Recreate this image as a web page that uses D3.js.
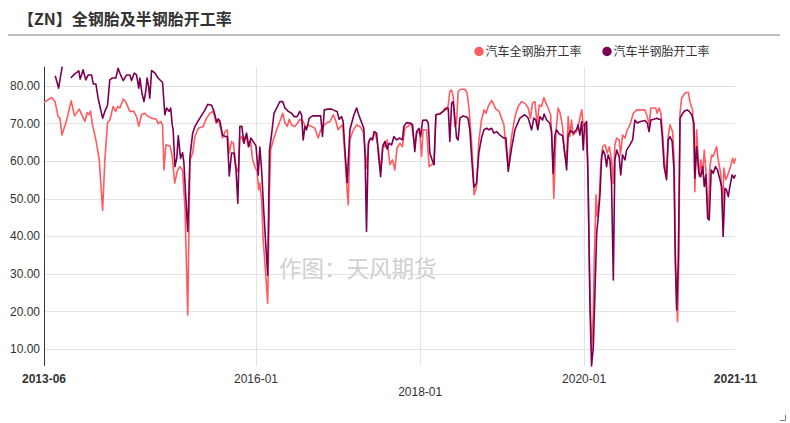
<!DOCTYPE html>
<html><head><meta charset="utf-8">
<script src="https://cdn.jsdelivr.net/npm/d3@7"></script>
<style>
body{margin:0;background:#fff;}
svg{display:block;font-family:"Liberation Sans",Arial,"Noto Sans CJK SC",sans-serif;}
</style>
</head><body>
<svg id="c" width="790" height="423"></svg>
<script>
const title = "【ZN】全钢胎及半钢胎开工率";
const seriesNames = ["汽车全钢胎开工率", "汽车半钢胎开工率"];
const seriesColors = ["#FF5B61", "#7B0051"];
const watermark = "作图：天风期货";
const yTicks = [10, 20, 30, 40, 50, 60, 70, 80];
const xTickDates = ["2016-01-01", "2018-01-01", "2020-01-01"];

const fullDates = ["2013-06-01","2013-07-05","2013-07-20","2013-08-03","2013-08-11","2013-08-20","2013-09-10","2013-09-30","2013-10-15","2013-11-05","2013-11-20","2013-11-30","2013-12-10","2013-12-18","2013-12-25",
"2014-01-03","2014-01-18","2014-02-02","2014-02-17","2014-02-27","2014-03-11","2014-03-21","2014-04-05","2014-04-16","2014-04-25","2014-05-05","2014-05-20","2014-06-01","2014-06-18","2014-07-06","2014-07-18","2014-07-28","2014-08-09","2014-08-24","2014-09-03","2014-09-23","2014-10-15","2014-10-22","2014-11-02","2014-11-11","2014-11-17","2014-11-26","2014-12-14","2014-12-24",
"2015-01-04","2015-01-15","2015-01-27","2015-02-08","2015-02-19","2015-03-03","2015-03-13","2015-03-25","2015-04-04","2015-04-19","2015-05-11","2015-05-26","2015-06-10","2015-06-22","2015-06-29","2015-07-07","2015-07-17","2015-07-28","2015-08-05","2015-08-16","2015-08-26","2015-09-04","2015-09-14","2015-09-22","2015-10-04","2015-10-14","2015-10-21","2015-10-29","2015-11-05","2015-11-17","2015-11-27","2015-12-08","2015-12-17","2015-12-27",
"2016-01-06","2016-01-13","2016-01-18","2016-01-26","2016-02-02","2016-02-13","2016-02-22","2016-03-01","2016-03-06","2016-03-18","2016-04-02","2016-04-16","2016-04-29","2016-05-09","2016-05-19","2016-05-28","2016-06-07","2016-06-22","2016-07-04","2016-07-14","2016-07-29","2016-08-10","2016-08-20","2016-09-04","2016-09-19","2016-10-04","2016-10-15","2016-10-26","2016-11-10","2016-11-25","2016-12-10","2016-12-22",
"2017-01-01","2017-01-12","2017-01-21","2017-01-31","2017-02-10","2017-02-15","2017-02-22","2017-03-06","2017-03-24","2017-04-08","2017-04-22","2017-04-30","2017-05-07","2017-05-19","2017-06-03","2017-06-13","2017-06-28","2017-07-09","2017-07-20","2017-07-28","2017-08-07","2017-08-19","2017-08-31","2017-09-10","2017-09-20","2017-10-02","2017-10-14","2017-10-25","2017-11-08","2017-11-23","2017-12-01","2017-12-08","2017-12-18","2017-12-30",
"2018-01-07","2018-01-14","2018-01-29","2018-02-10","2018-02-21","2018-03-03","2018-03-12","2018-03-30","2018-04-13","2018-04-21","2018-04-29","2018-05-06","2018-05-13","2018-05-21","2018-05-28","2018-06-04","2018-06-12","2018-06-19","2018-06-30","2018-07-19","2018-07-29","2018-08-07","2018-08-18","2018-08-25","2018-08-29","2018-09-09","2018-09-19","2018-10-01","2018-10-12","2018-10-21","2018-10-31","2018-11-15","2018-11-22","2018-12-04","2018-12-19","2018-12-29",
"2019-01-09","2019-01-18","2019-01-28","2019-02-12","2019-02-27","2019-03-13","2019-03-28","2019-04-12","2019-04-27","2019-05-07","2019-05-16","2019-05-27","2019-06-06","2019-06-15","2019-06-25","2019-07-06","2019-07-15","2019-07-25","2019-08-05","2019-08-13","2019-08-19","2019-08-29","2019-09-07","2019-09-15","2019-09-27","2019-10-07","2019-10-15","2019-10-22","2019-10-29","2019-11-06","2019-11-13","2019-11-28","2019-12-10","2019-12-16","2019-12-22","2019-12-28",
"2020-01-03","2020-01-09","2020-01-17","2020-01-24","2020-02-03","2020-02-11","2020-02-15","2020-02-23","2020-02-28","2020-03-08","2020-03-14","2020-03-23","2020-04-03","2020-04-13","2020-04-22","2020-05-02","2020-05-10","2020-05-17","2020-05-25","2020-06-05","2020-06-11","2020-06-20","2020-07-01","2020-07-11","2020-07-23","2020-08-07","2020-08-22","2020-09-13","2020-09-28","2020-10-08","2020-10-17","2020-10-24","2020-11-03","2020-11-15","2020-11-21","2020-11-30","2020-12-08","2020-12-15","2020-12-23",
"2021-01-02","2021-01-09","2021-01-17","2021-01-29","2021-02-05","2021-02-11","2021-02-16","2021-02-20","2021-02-26","2021-03-03","2021-03-10","2021-03-25","2021-04-09","2021-04-16","2021-04-28","2021-05-04","2021-05-08","2021-05-16","2021-05-28","2021-06-04","2021-06-12","2021-06-19","2021-06-26","2021-07-07","2021-07-14","2021-07-22","2021-07-29","2021-08-05","2021-08-13","2021-08-20","2021-08-31","2021-09-09","2021-09-14","2021-09-23","2021-10-04","2021-10-14","2021-10-23","2021-10-30","2021-11-05"];
const fullValues = [75.6,76.9,75.8,71.8,71.4,66.9,70.9,76.0,72.0,73.8,71.8,70.5,72.9,72.3,73.3,
69.6,65.6,60.3,46.8,60.3,70.2,70.9,74.5,73.2,74.5,74.1,76.5,75.6,73.2,73.2,71.8,69.2,72.3,72.7,72.0,71.4,71.1,69.9,70.5,69.6,57.6,64.3,64.0,61.2,
54.1,57.2,58.5,57.6,47.0,19.0,60.3,62.1,66.5,68.7,69.2,71.4,72.7,73.2,72.3,70.1,70.9,68.7,66.1,67.8,68.3,62.1,65.2,64.7,58.5,57.0,66.1,66.5,65.2,66.9,63.8,65.2,60.3,58.5,
57.2,52.3,54.1,49.6,39.0,30.1,22.1,51.4,62.9,65.6,68.3,70.5,72.7,70.1,69.2,71.1,69.6,69.2,70.1,71.1,70.5,68.7,69.6,69.2,68.7,66.1,68.3,69.2,70.1,70.5,72.3,70.5,
68.3,69.2,69.6,61.2,51.8,48.3,65.6,67.8,69.6,69.2,67.8,63.8,58.0,65.6,66.1,67.8,63.8,57.6,64.3,63.7,65.6,59.0,60.3,57.6,63.4,64.7,63.8,68.7,69.2,70.1,66.5,64.3,67.8,67.4,
61.2,68.3,68.3,58.5,59.0,59.4,72.3,72.7,73.2,74.1,73.6,74.9,78.5,78.9,77.2,69.2,70.1,78.5,79.1,79.1,78.1,73.6,64.7,57.6,51.0,53.2,65.2,70.9,73.6,72.7,74.5,76.1,75.4,73.8,73.2,71.4,
69.6,63.4,58.5,66.5,71.8,74.5,75.8,75.4,74.1,71.4,75.4,75.8,69.6,74.9,74.5,76.9,75.4,74.1,72.3,62.0,50.1,68.0,74.1,73.0,69.2,61.2,60.3,71.8,66.5,70.9,66.9,67.8,70.5,72.3,73.6,69.2,
70.1,67.4,60.3,33.6,9.7,19.4,33.6,51.0,45.2,49.6,57.6,63.8,64.3,62.1,63.8,60.3,54.0,64.3,66.1,65.6,61.6,66.9,66.1,68.3,69.6,72.7,73.6,73.6,73.6,71.8,69.6,74.1,74.1,74.1,72.7,74.1,72.7,67.8,60.3,
55.8,66.5,69.6,67.8,60.3,33.6,23.0,17.2,34.5,72.7,76.7,78.1,78.3,75.8,73.6,64.7,51.8,68.3,55.8,60.3,56.7,62.9,57.6,44.7,58.5,61.6,61.2,62.5,63.8,60.3,56.7,47.0,58.1,55.0,56.7,58.5,60.7,59.4,60.7];

const semiDates = ["2013-07-21","2013-08-05","2013-08-21","2013-09-04","2013-09-28","2013-10-16","2013-11-03","2013-11-09","2013-11-15","2013-11-22","2013-12-04","2013-12-15","2013-12-30",
"2014-01-06","2014-01-18","2014-01-28","2014-02-17","2014-02-27","2014-03-11","2014-03-21","2014-04-02","2014-04-17","2014-04-27","2014-05-08","2014-05-20","2014-06-04","2014-06-18","2014-06-26","2014-07-08","2014-07-18","2014-07-28","2014-08-02","2014-08-11","2014-08-20","2014-08-29","2014-09-03","2014-09-10","2014-09-15","2014-09-23","2014-10-08","2014-10-22","2014-11-11","2014-11-21","2014-11-29","2014-12-10","2014-12-17","2014-12-24","2014-12-28",
"2015-01-05","2015-01-13","2015-01-20","2015-01-30","2015-02-08","2015-02-14","2015-02-23","2015-03-03","2015-03-13","2015-03-25","2015-04-04","2015-04-26","2015-05-19","2015-05-31","2015-06-10","2015-06-17","2015-06-28","2015-07-10","2015-07-17","2015-07-24","2015-08-05","2015-08-16","2015-08-26","2015-09-04","2015-09-14","2015-09-25","2015-10-04","2015-10-12","2015-10-21","2015-10-30","2015-11-08","2015-11-20","2015-11-30","2015-12-09","2015-12-19",
"2016-01-01","2016-01-11","2016-01-18","2016-01-26","2016-02-05","2016-02-14","2016-02-22","2016-03-01","2016-03-11","2016-03-21","2016-04-02","2016-04-16","2016-04-29","2016-05-09","2016-05-24","2016-06-07","2016-06-19","2016-07-02","2016-07-14","2016-07-22","2016-07-29","2016-08-06","2016-08-13","2016-08-25","2016-09-09","2016-09-27","2016-10-15","2016-10-23","2016-10-31","2016-11-17","2016-12-02","2016-12-17","2016-12-27",
"2017-01-05","2017-01-16","2017-01-23","2017-01-31","2017-02-10","2017-02-22","2017-03-02","2017-03-12","2017-03-24","2017-03-31","2017-04-11","2017-04-25","2017-05-01","2017-05-07","2017-05-15","2017-05-25","2017-06-03","2017-06-10","2017-06-21","2017-06-30","2017-07-09","2017-07-18","2017-07-28","2017-08-07","2017-08-16","2017-08-27","2017-09-06","2017-09-18","2017-10-02","2017-10-14","2017-10-20","2017-11-01","2017-11-16","2017-11-28","2017-12-08","2017-12-16","2017-12-27",
"2018-01-03","2018-01-12","2018-01-29","2018-02-06","2018-02-13","2018-02-23","2018-03-04","2018-03-12","2018-03-30","2018-04-17","2018-04-29","2018-05-06","2018-05-13","2018-05-21","2018-05-28","2018-06-04","2018-06-12","2018-06-19","2018-06-27","2018-07-11","2018-07-26","2018-08-02","2018-08-10","2018-08-20","2018-08-28","2018-09-09","2018-09-19","2018-10-01","2018-10-12","2018-10-24","2018-11-04","2018-11-15","2018-11-25","2018-12-07","2018-12-22",
"2019-01-09","2019-01-18","2019-01-28","2019-02-12","2019-02-27","2019-03-21","2019-04-12","2019-04-27","2019-05-12","2019-05-22","2019-05-31","2019-06-09","2019-06-18","2019-06-30","2019-07-07","2019-07-18","2019-08-01","2019-08-09","2019-08-16","2019-08-24","2019-08-31","2019-09-12","2019-09-27","2019-10-07","2019-10-15","2019-10-22","2019-11-02","2019-11-13","2019-11-28","2019-12-05","2019-12-13","2019-12-21","2019-12-28",
"2020-01-03","2020-01-12","2020-01-19","2020-01-27","2020-02-03","2020-02-11","2020-02-18","2020-02-26","2020-03-04","2020-03-12","2020-03-19","2020-03-26","2020-04-03","2020-04-10","2020-04-17","2020-04-25","2020-05-02","2020-05-10","2020-05-17","2020-05-25","2020-06-05","2020-06-12","2020-06-20","2020-07-01","2020-07-08","2020-07-23","2020-08-04","2020-08-14","2020-08-24","2020-09-08","2020-09-28","2020-10-08","2020-10-16","2020-10-24","2020-11-07","2020-11-19","2020-11-28","2020-12-07","2020-12-14","2020-12-22",
"2021-01-02","2021-01-09","2021-01-17","2021-01-27","2021-02-04","2021-02-10","2021-02-16","2021-02-23","2021-03-03","2021-03-15","2021-03-25","2021-04-04","2021-04-13","2021-04-24","2021-05-04","2021-05-08","2021-05-16","2021-05-26","2021-06-03","2021-06-12","2021-06-19","2021-06-26","2021-07-04","2021-07-11","2021-07-20","2021-07-29","2021-08-08","2021-08-17","2021-08-28","2021-09-04","2021-09-11","2021-09-19","2021-09-26","2021-10-04","2021-10-11","2021-10-21","2021-10-29","2021-11-05"];
const semiValues = [82.7,79.4,85.1,null,82.1,83.2,84.0,81.8,82.9,84.3,81.6,82.9,82.9,
80.5,80.5,76.7,71.4,73.2,74.9,81.6,82.1,82.1,84.7,82.9,81.4,82.9,82.9,81.4,83.4,82.9,79.4,82.1,78.1,75.8,78.9,82.1,79.8,76.7,84.1,83.4,82.1,80.9,72.3,74.1,73.2,74.1,69.6,68.3,
58.5,60.7,66.7,60.7,62.2,59.4,49.6,41.2,61.2,67.4,69.2,71.4,73.6,75.1,74.9,74.9,73.2,70.3,71.2,70.7,66.9,66.5,66.5,56.0,62.1,62.1,57.6,48.7,69.2,69.2,64.7,67.4,63.8,66.1,65.2,
64.0,56.3,63.7,57.6,46.1,37.2,29.6,62.9,67.4,72.7,74.1,75.8,75.8,74.1,73.2,72.7,71.8,71.8,73.2,72.3,65.6,69.2,68.3,71.4,72.0,72.0,72.0,66.5,73.6,73.8,73.8,73.4,73.2,
71.1,71.8,70.5,62.9,54.2,68.3,70.1,72.3,74.1,72.7,70.9,68.7,60.3,41.2,64.7,66.1,65.6,67.8,67.4,61.2,55.8,63.8,65.2,63.2,64.7,64.3,66.5,65.6,66.1,65.6,69.2,70.2,70.1,69.6,62.5,67.8,68.7,
66.5,70.8,70.9,70.1,62.1,60.3,59.0,72.3,72.5,73.4,74.1,74.1,65.2,75.4,75.8,71.8,66.1,65.6,71.4,72.0,71.7,71.4,68.3,59.4,53.0,54.1,62.1,66.1,68.3,68.7,68.3,68.7,67.4,67.8,66.9,
66.1,66.1,57.2,63.4,68.3,71.4,72.3,71.4,68.3,71.4,70.9,68.3,71.8,70.9,72.5,70.9,70.1,67.8,56.7,66.9,68.3,67.2,66.7,62.1,57.6,66.9,68.1,67.4,68.3,69.6,66.9,70.5,62.9,
69.6,70.5,53.2,21.2,5.4,10.5,24.8,40.8,45.2,51.4,61.2,62.8,61.6,58.5,61.6,60.3,54.1,28.3,60.3,62.9,61.2,56.3,61.6,60.3,62.9,64.3,65.6,70.9,70.1,70.5,70.8,70.1,67.8,70.9,71.1,71.4,71.1,71.1,66.5,58.5,
55.0,65.6,66.5,65.2,57.6,33.6,20.3,32.7,71.4,72.7,73.4,73.6,73.2,72.3,70.1,55.4,63.8,56.7,55.8,58.5,53.2,56.3,44.7,44.3,57.6,56.7,58.5,57.6,55.0,53.2,39.9,52.7,52.3,50.5,53.2,56.3,55.4,56.3];

const parse = d3.timeParse("%Y-%m-%d");
const fmt = d3.timeFormat("%Y-%m");
const series = [
  fullDates.map((d, i) => ({date: parse(d), value: fullValues[i]})),
  semiDates.map((d, i) => ({date: parse(d), value: semiValues[i]}))
];
const allPts = series.flat();
const xDomain = d3.extent(allPts, d => d.date);
const yDomain = d3.extent(allPts.filter(d => d.value != null), d => d.value);

const plotL = 44, plotR = 735.5, plotT = 66.7, plotB = 366;
const x = d3.scaleTime().domain(xDomain).range([plotL, plotR]);
const y = d3.scaleLinear().domain(yDomain).range([plotB, plotT]);

const svg = d3.select("#c");

// title
svg.append("text").attr("x", 18).attr("y", 25)
  .attr("font-family", "'Noto Sans CJK SC',sans-serif").attr("font-weight", "bold")
  .attr("font-size", 16).attr("fill", "#333").text(title);
svg.append("line").attr("x1", 8).attr("x2", 780).attr("y1", 35).attr("y2", 35)
  .attr("stroke", "#aaa").attr("stroke-width", 1.5);

// grid horizontal
svg.append("g").selectAll("line").data(yTicks).join("line")
  .attr("x1", plotL).attr("x2", plotR)
  .attr("y1", d => Math.round(y(d)) + 0.5).attr("y2", d => Math.round(y(d)) + 0.5)
  .attr("stroke", "#e3e3e3").attr("stroke-width", 1);
// grid vertical
const xTicks = xTickDates.map(parse);
svg.append("g").selectAll("line").data(xTicks).join("line")
  .attr("x1", d => Math.round(x(d)) + 0.5).attr("x2", d => Math.round(x(d)) + 0.5)
  .attr("y1", plotT).attr("y2", plotB)
  .attr("stroke", "#e3e3e3").attr("stroke-width", 1);

// y axis
const yAxis = d3.axisLeft(y).tickValues(yTicks).tickSize(0).tickPadding(4)
  .tickFormat(d3.format(".2f"));
const yg = svg.append("g").attr("transform", `translate(${plotL},0)`).call(yAxis);
yg.select(".domain").attr("stroke", "#333").attr("d", `M0.5,${plotT}V${plotB}`);
yg.selectAll("text").attr("font-size", 12).attr("fill", "#333")
  .attr("font-family", "'Liberation Sans',Arial,sans-serif");

// x labels
const xLabels = [
  {date: xDomain[0], bold: true, row: 0},
  ...xTicks.map((d, i) => ({date: d, bold: false, row: i === 1 ? 1 : 0})),
  {date: xDomain[1], bold: true, row: 0}
];
svg.append("g").selectAll("text").data(xLabels).join("text")
  .attr("x", d => x(d.date)).attr("y", d => d.row ? 396 : 383)
  .attr("text-anchor", "middle").attr("font-size", 12).attr("fill", "#333")
  .attr("font-weight", d => d.bold ? "bold" : "normal")
  .text(d => fmt(d.date));

// watermark
svg.append("text").attr("x", 279).attr("y", 277)
  .attr("font-family", "'Noto Sans CJK SC',sans-serif").attr("font-size", 22.5)
  .attr("fill", "#d0d0d0").text(watermark);

// lines
const line = d3.line().defined(d => d.value != null)
  .x(d => x(d.date)).y(d => y(d.value));
series.forEach((s, i) => {
  svg.append("path").datum(s).attr("d", line).attr("fill", "none")
    .attr("stroke", seriesColors[i]).attr("stroke-width", 1.6)
    .attr("stroke-linejoin", "round");
});

// legend
const legendX = [479, 607];
seriesNames.forEach((n, i) => {
  svg.append("circle").attr("cx", legendX[i]).attr("cy", 51.5).attr("r", 4.7).attr("fill", seriesColors[i]);
  svg.append("text").attr("x", legendX[i] + 6.5).attr("y", 56)
    .attr("font-family", "'Noto Sans CJK SC',sans-serif").attr("font-size", 12)
    .attr("fill", "#333").text(n);
});

// corner mark
svg.append("path").attr("d", "M785.5,415V420.5H780").attr("fill", "none").attr("stroke", "#777").attr("stroke-width", 1);
</script>
</body></html>
